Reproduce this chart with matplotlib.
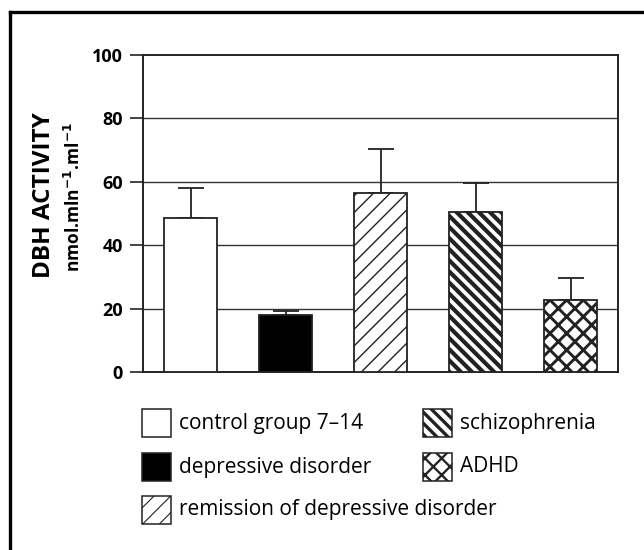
import numpy as np
import matplotlib
matplotlib.use('Agg')
import matplotlib.pyplot as plt
import matplotlib.patches as patches
from matplotlib.lines import Line2D

plt.rcParams['font.family'] = ['Open Sans', 'DejaVu Sans']

groups = ['control group 7\u201314', 'depressive disorder', 'remission of depressive disorder',
          'schizophrenia', 'ADHD']
means = [48.7, 17.9, 56.5, 50.6, 22.6]
errs = [9.4, 1.3, 13.8, 8.9, 6.9]
yticks = [0, 20, 40, 60, 80, 100]

faces = ['white', 'black', 'white', 'white', 'white']
hatches = [None, None, '//', '\\\\\\', 'xx']
hatch_lw = [1.0, 1.0, 1.0, 3.0, 2.1]

fig = plt.figure(figsize=(6.44, 5.5), dpi=100)
ax = fig.add_axes([143/644, 1-372/550, 475/644, 317/550])

x = np.arange(len(means))
for i in range(len(means)):
    with plt.rc_context({'hatch.linewidth': hatch_lw[i], 'hatch.color': 'black'}):
        b = ax.bar(x[i], means[i], width=0.56, color=faces[i], edgecolor='#222222',
                   linewidth=1.3, hatch=hatches[i], zorder=3)[0]
        try:
            b.set_hatch_linewidth(hatch_lw[i])
        except AttributeError:
            pass
    ax.errorbar(x[i], means[i], yerr=[[0], [errs[i]]], fmt='none', ecolor='#222222',
                elinewidth=1.3, capsize=9.5, capthick=1.3, zorder=2)

ax.set_xlim(-0.5, len(means) - 0.5)
ax.set_ylim(0, 100)
ax.set_yticks(yticks)
ax.set_yticklabels([str(t) for t in yticks], fontsize=13, fontweight='bold')
ax.tick_params(axis='y', direction='out', length=9.5, width=1.2, pad=5, color='#222222')
ax.set_xticks([])
for t in yticks[1:5]:
    ax.axhline(t, color='#333333', lw=1.0, zorder=1)
for s in ax.spines.values():
    s.set_linewidth(1.4)
    s.set_color('#222222')

fig.text(44/644, 1-195/550, 'DBH ACTIVITY', rotation=90, fontsize=17.5, fontweight='bold',
         ha='center', va='center')
fig.text(74/644, 1-197/550, r'nmol.mln$^{\mathbf{-1}}$.ml$^{\mathbf{-1}}$', rotation=90,
         fontsize=12.5, fontweight='bold', ha='center', va='center')

# legend, drawn by hand in two columns
leg_pos = [(142, 423), (142, 467), (142, 510), (423, 423), (423, 467)]
for i in range(len(groups)):
    px, py = leg_pos[i]
    with plt.rc_context({'hatch.linewidth': hatch_lw[i] * 0.8}):
        rect = patches.Rectangle((px/644, 1-(py+14)/550), 29/644, 28/550,
                                 transform=fig.transFigure, facecolor=faces[i],
                                 edgecolor='#222222', hatch=hatches[i], linewidth=1.1)
    try:
        rect.set_hatch_linewidth(hatch_lw[i] * 0.8)
    except AttributeError:
        pass
    fig.add_artist(rect)
    fig.text((px + 37)/644, 1-py/550, groups[i], fontsize=15, ha='left', va='center')

# outer frame (top and left edges)
fig.add_artist(Line2D([9.5/644, 9.5/644], [0, 1-11.5/550], transform=fig.transFigure,
                      color='black', lw=2.4))
fig.add_artist(Line2D([9.5/644, 1], [1-11.5/550, 1-11.5/550], transform=fig.transFigure,
                      color='black', lw=2.4))

fig.savefig('out.png', dpi=100)
